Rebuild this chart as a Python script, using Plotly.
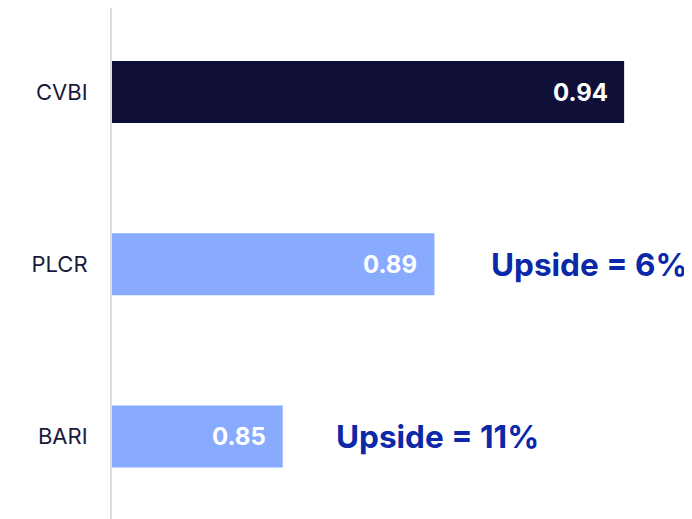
import plotly.graph_objects as go

tickers = ["CVBI", "PLCR", "BARI"]
values = [0.94, 0.89, 0.85]
upside = ["", "Upside = 6%", "Upside = 11%"]
bar_colors = ["#100f38", "#88aaff", "#88aaff"]

fig = go.Figure()
fig.add_trace(go.Bar(
    x=values, y=tickers, orientation="h",
    marker=dict(color=bar_colors, line=dict(width=0)),
    width=0.36, hoverinfo="skip",
))

for t, v in zip(tickers, values):
    fig.add_annotation(x=v, y=t, text=f"<b>{v:.2f}</b>", showarrow=False,
                       xanchor="center", xshift=-44,
                       font=dict(family="Inter", size=24, color="white"))
for t, v, u in zip(tickers, values, upside):
    if u:
        fig.add_annotation(x=v, y=t, text=f"<b>{u}</b>", showarrow=False,
                           xanchor="center", xshift=155,
                           font=dict(family="Inter", size=31.5, color="#0a28a8"))

fig.update_layout(
    width=692, height=519,
    margin=dict(l=104, r=0, t=0, b=0),
    plot_bgcolor="white", paper_bgcolor="white",
    showlegend=False,
    font=dict(family="Inter", color="#1a1a3a"),
    xaxis=dict(range=[0.805, 0.960], visible=False, showgrid=False, zeroline=False),
    yaxis=dict(
        range=[2.525, -0.488], type="category",
        showline=True, linecolor="#dcdcdc", linewidth=2,
        showgrid=False, zeroline=False, ticks="",
        ticklabelstandoff=18,
        tickfont=dict(family="Inter", size=22, color="#1a1a3a"),
    ),
)

fig.write_html("out.html")
